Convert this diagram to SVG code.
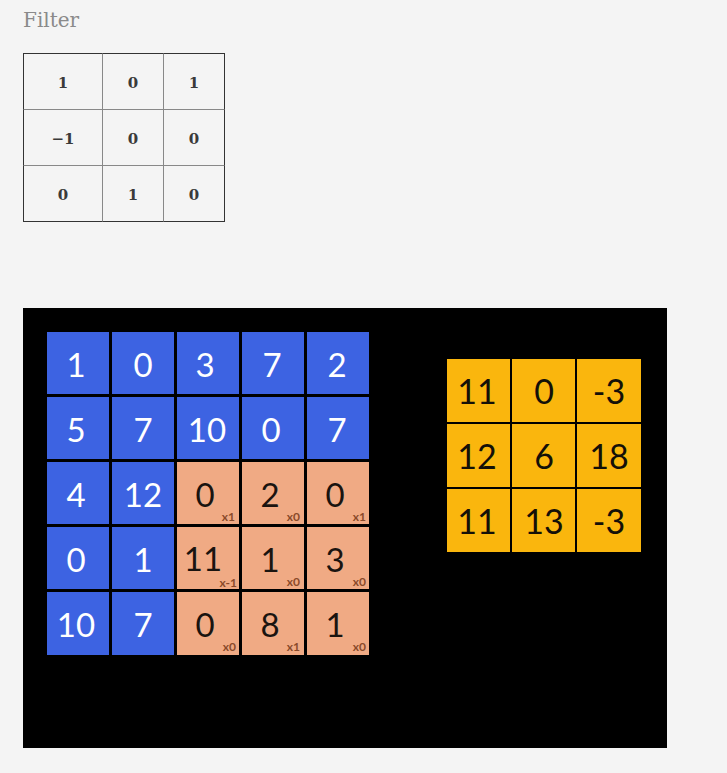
<svg xmlns="http://www.w3.org/2000/svg" width="727" height="773" viewBox="0 0 727 773">
<style>
.title{font-family:"DejaVu Serif","Liberation Serif",serif;font-size:20px;fill:#8a8a8a}
.ft{font-family:"DejaVu Serif","Liberation Serif",serif;font-size:15px;font-weight:bold;fill:#3a3a3a;text-anchor:middle}
.blue{fill:#3d63e2}
.org{fill:#f0aa84}
.yel{fill:#fab60d}
.wn{font-family:Lato,"Open Sans",sans-serif;font-size:33px;fill:#ffffff;text-anchor:middle}
.bn{font-family:Lato,"Open Sans",sans-serif;font-size:33px;fill:#1a1410;text-anchor:middle}
.yn{font-family:Lato,"Open Sans",sans-serif;font-size:34px;fill:#141008;text-anchor:middle}
.sm{font-family:Lato,"Open Sans",sans-serif;font-size:12px;font-weight:bold;fill:#8a4a2a;text-anchor:end}
</style>
<rect width="727" height="773" fill="#f4f4f4"/>
<text class="title" x="23" y="27">Filter</text>
<g id="filter">
<rect x="23.5" y="53.5" width="201" height="168" fill="none" stroke="#333" stroke-width="1"/>
<path d="M102.5 53.5V221.5M163.5 53.5V221.5M23.5 109.5H224.5M23.5 165.5H224.5" stroke="#888" stroke-width="1" fill="none"/>
<text class="ft" x="63" y="88">1</text><text class="ft" x="133" y="88">0</text><text class="ft" x="194" y="88">1</text>
<text class="ft" x="63" y="144">−1</text><text class="ft" x="133" y="144">0</text><text class="ft" x="194" y="144">0</text>
<text class="ft" x="63" y="200">0</text><text class="ft" x="133" y="200">1</text><text class="ft" x="194" y="200">0</text>
</g>
<rect x="23" y="308" width="644" height="440" fill="#000"/>
<g id="input">
<rect class="blue" x="47" y="332" width="62" height="62"/><rect class="blue" x="112" y="332" width="62" height="62"/><rect class="blue" x="177" y="332" width="62" height="62"/><rect class="blue" x="242" y="332" width="62" height="62"/><rect class="blue" x="307" y="332" width="62" height="62"/>
<rect class="blue" x="47" y="397" width="62" height="62"/><rect class="blue" x="112" y="397" width="62" height="62"/><rect class="blue" x="177" y="397" width="62" height="62"/><rect class="blue" x="242" y="397" width="62" height="62"/><rect class="blue" x="307" y="397" width="62" height="62"/>
<rect class="blue" x="47" y="462" width="62" height="62"/><rect class="blue" x="112" y="462" width="62" height="62"/><rect class="org" x="177" y="462" width="62" height="62"/><rect class="org" x="242" y="462" width="62" height="62"/><rect class="org" x="307" y="462" width="62" height="62"/>
<rect class="blue" x="47" y="527" width="62" height="62"/><rect class="blue" x="112" y="527" width="62" height="62"/><rect class="org" x="177" y="527" width="62" height="62"/><rect class="org" x="242" y="527" width="62" height="62"/><rect class="org" x="307" y="527" width="62" height="62"/>
<rect class="blue" x="47" y="592" width="62" height="63"/><rect class="blue" x="112" y="592" width="62" height="63"/><rect class="org" x="177" y="592" width="62" height="63"/><rect class="org" x="242" y="592" width="62" height="63"/><rect class="org" x="307" y="592" width="62" height="63"/>
<text class="wn" x="76" y="377">1</text><text class="wn" x="143" y="377">0</text><text class="wn" x="205" y="377">3</text><text class="wn" x="272" y="377">7</text><text class="wn" x="337" y="377">2</text>
<text class="wn" x="76" y="442">5</text><text class="wn" x="143" y="442">7</text><text class="wn" x="207" y="442">10</text><text class="wn" x="271" y="442">0</text><text class="wn" x="337" y="442">7</text>
<text class="wn" x="76" y="507">4</text><text class="wn" x="143" y="507">12</text><text class="bn" x="205" y="507">0</text><text class="bn" x="270" y="507">2</text><text class="bn" x="335" y="507">0</text>
<text class="wn" x="76" y="572">0</text><text class="wn" x="143" y="572">1</text><text class="bn" x="203" y="571" font-size="32">11</text><text class="bn" x="270" y="572">1</text><text class="bn" x="335" y="572">3</text>
<text class="wn" x="76" y="637">10</text><text class="wn" x="143" y="637">7</text><text class="bn" x="205" y="637">0</text><text class="bn" x="270" y="637">8</text><text class="bn" x="335" y="637">1</text>
<text class="sm" x="235" y="521">x1</text><text class="sm" x="300" y="521">x0</text><text class="sm" x="366" y="521">x1</text>
<text class="sm" x="237" y="587" font-size="11">x-1</text><text class="sm" x="300" y="586">x0</text><text class="sm" x="366" y="586">x0</text>
<text class="sm" x="236" y="651">x0</text><text class="sm" x="300" y="651">x1</text><text class="sm" x="366" y="651">x0</text>
</g>
<g id="output">
<rect class="yel" x="447" y="359" width="63" height="63"/><rect class="yel" x="512" y="359" width="63" height="63"/><rect class="yel" x="577" y="359" width="64" height="63"/>
<rect class="yel" x="447" y="424" width="63" height="63"/><rect class="yel" x="512" y="424" width="63" height="63"/><rect class="yel" x="577" y="424" width="64" height="63"/>
<rect class="yel" x="447" y="489" width="63" height="63"/><rect class="yel" x="512" y="489" width="63" height="63"/><rect class="yel" x="577" y="489" width="64" height="63"/>
<text class="yn" x="477" y="404">11</text><text class="yn" x="544" y="404">0</text><text class="yn" x="609" y="404">-3</text>
<text class="yn" x="477" y="469">12</text><text class="yn" x="544" y="469">6</text><text class="yn" x="609" y="469">18</text>
<text class="yn" x="477" y="534">11</text><text class="yn" x="544" y="534">13</text><text class="yn" x="609" y="534">-3</text>
</g>
</svg>
